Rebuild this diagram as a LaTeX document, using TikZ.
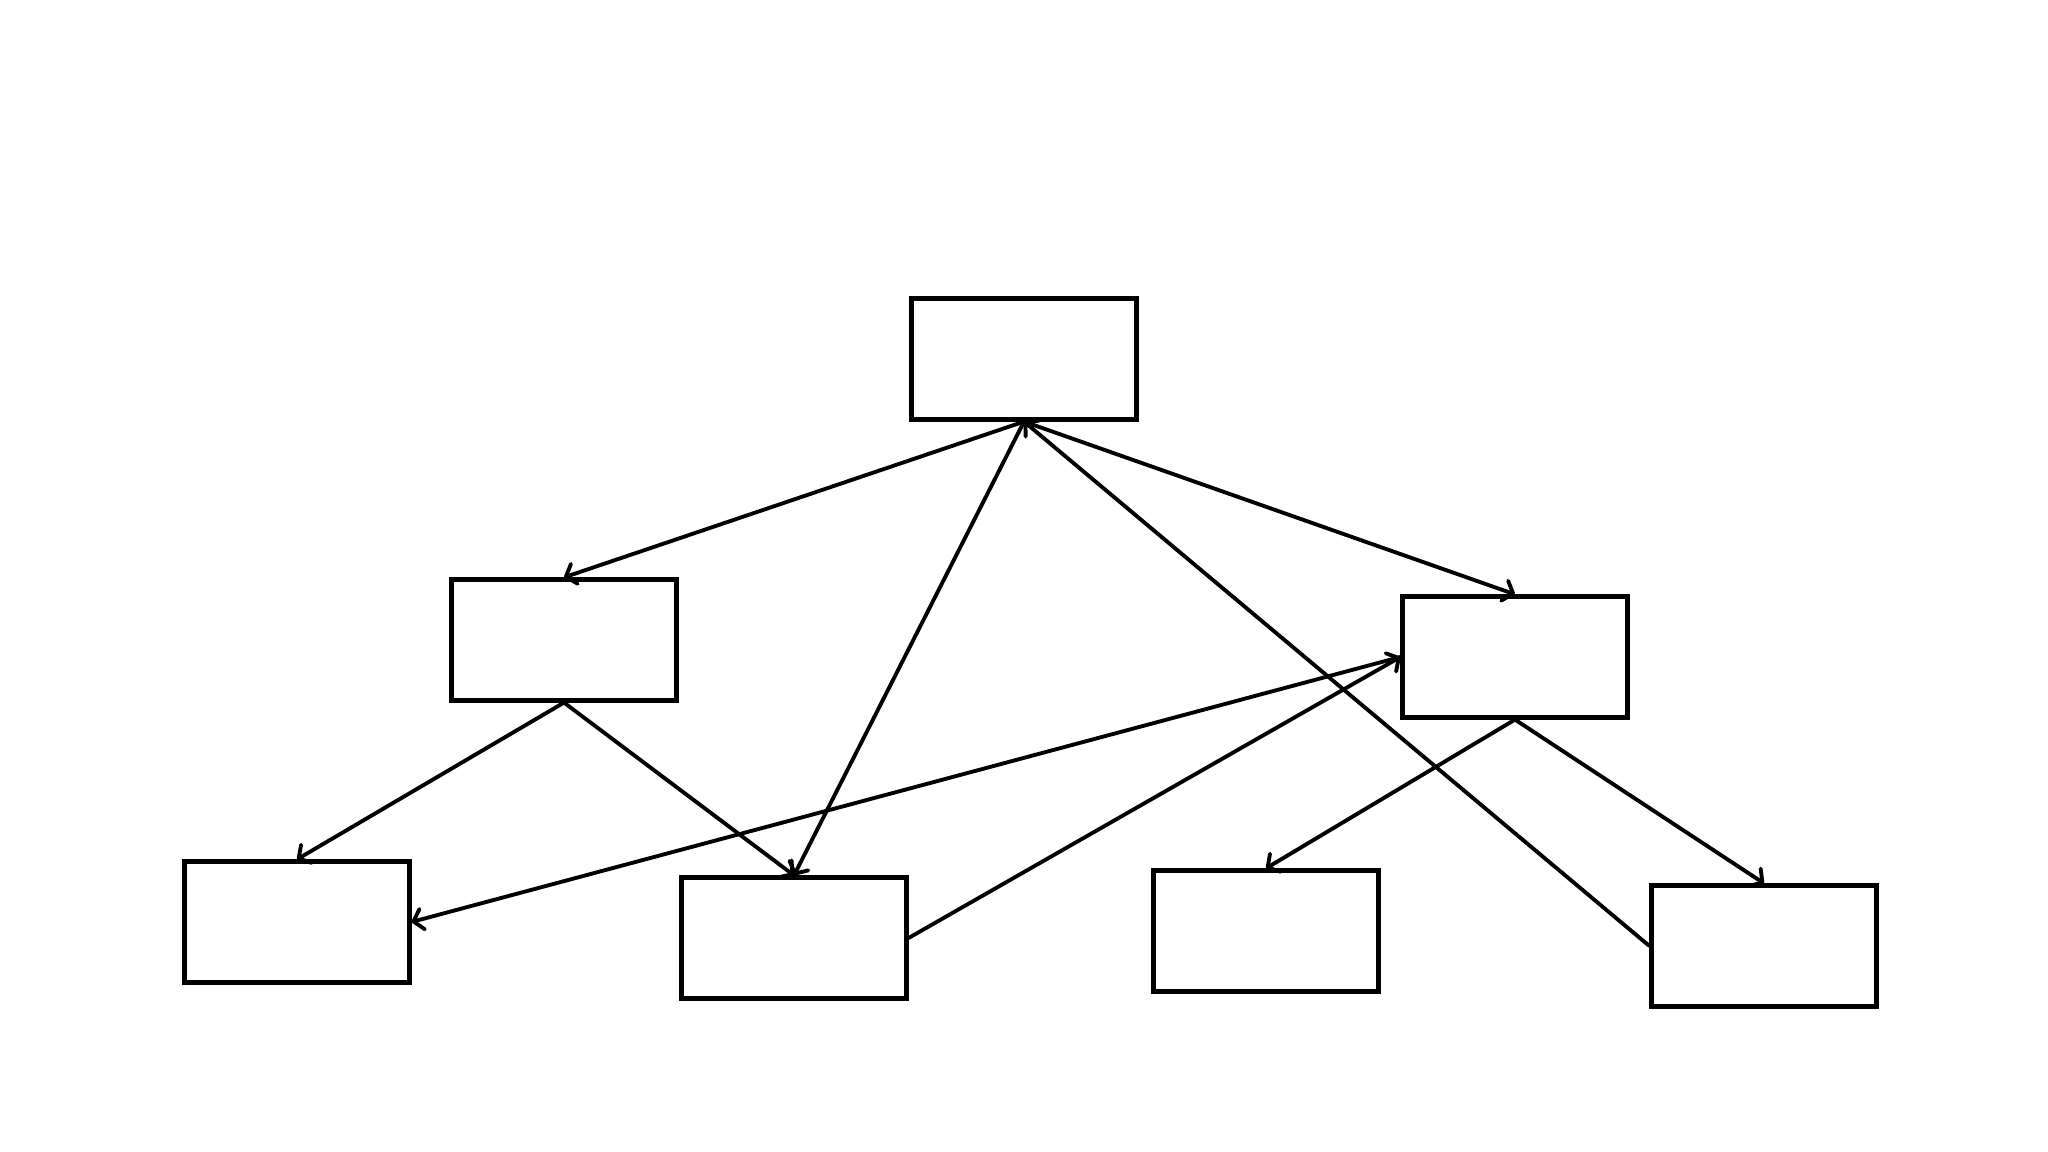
\documentclass[tikz,border=0pt]{standalone}
\usepackage{tikz}
\usetikzlibrary{arrows.meta}
\tikzset{
  blank/.style={rectangle, draw=black, line width=1.2pt, fill=white,
                minimum width=2.25cm, minimum height=1.21cm},
  arr/.style={-{Straight Barb[length=0.9mm, width=2.1mm, round]}, line width=1.1pt,
              line cap=round, draw=black},
}
\begin{document}
\begin{tikzpicture}
        \useasboundingbox (0,0) rectangle (20.48,11.52);
        \node[blank] (top) at (10.24,7.93) {};
        \node[blank] (ml) at (5.64,5.12) {};
        \node[blank] (mr) at (15.15,4.95) {};
        \node[blank] (ba) at (2.97,2.30) {};
        \node[blank] (bb) at (7.94,2.14) {};
        \node[blank] (bc) at (12.66,2.21) {};
        \node[blank] (bd) at (17.64,2.06) {};
        \draw[arr] (top.south) -- (ml.north); \draw[arr] (top.south) -- (mr.north);
        \draw[arr] (top.south) -- (bb.north); \draw[arr] (bd.west) -- (top.south);
        \draw[arr] (ml.south) -- (ba.north); \draw[arr] (ml.south) -- (bb.north);
        \draw[arr] (mr.west) -- (ba.east); \draw[arr] (bb.east) -- (mr.west);
        \draw[arr] (mr.south) -- (bc.north); \draw[arr] (mr.south) -- (bd.north);
      \end{tikzpicture}
\end{document}
